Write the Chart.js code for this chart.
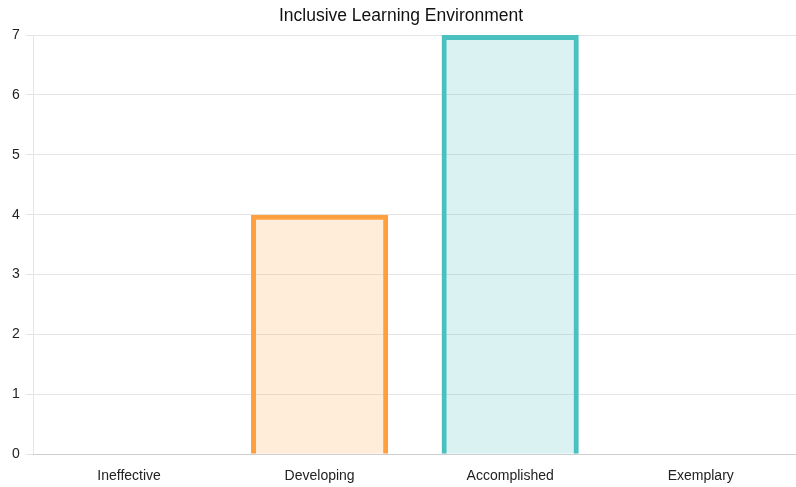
<!DOCTYPE html>
<html>
<head>
<meta charset="utf-8">
<script src="https://cdn.jsdelivr.net/npm/chart.js@4"></script>
<style>
  body { margin: 0; background: #fff; }
  #wrap { width: 796px; height: 487px; position: relative; }
</style>
</head>
<body>
<div id="wrap"><canvas id="chart"></canvas></div>
<script>
//categories and values
const categories = ["Ineffective", "Developing", "Accomplished", "Exemplary"];
const counts = [0, 4, 7, 0];
//one colour per bar
const borderColors = [
  "rgb(255, 99, 132)",
  "rgb(255, 159, 64)",
  "rgb(75, 192, 192)",
  "rgb(54, 162, 235)"
];
const fillColors = [
  "rgba(255, 99, 132, 0.2)",
  "rgba(255, 159, 64, 0.2)",
  "rgba(75, 192, 192, 0.2)",
  "rgba(54, 162, 235, 0.2)"
];

Chart.defaults.font.family = "'Liberation Sans', Arial, Helvetica, sans-serif";
Chart.defaults.color = "#222";

let myChart = new Chart(document.getElementById("chart"), {
  type: "bar",
  data: {
    labels: categories,
    datasets: [
      {
        data: counts,
        backgroundColor: fillColors,
        borderColor: borderColors,
        borderWidth: 5,
      },
    ],
  },
  options: {
    responsive: true,
    maintainAspectRatio: false,
    animation: false,
    layout: { padding: { left: 6, right: 0, top: 0, bottom: -12 } },
    plugins: {
      legend: { display: false },
      tooltip: { enabled: false },
      title: {
        display: true,
        text: "Inclusive Learning Environment",
        font: { size: 17.5, weight: "normal" },
        color: "#111",
        padding: { top: 6, bottom: 8 },
      },
    },
    scales: {
      x: {
        grid: { display: false, tickLength: 0 },
        ticks: { font: { size: 14 }, padding: 14 },
      },
      y: {
        beginAtZero: true,
        max: 7,
        ticks: { stepSize: 1, font: { size: 14 }, padding: 6 },
      },
    },
  },
});
</script>
</body>
</html>
